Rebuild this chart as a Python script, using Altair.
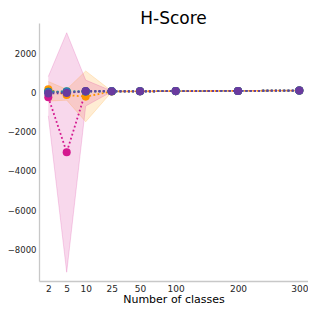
import altair as alt
import pandas as pd

classes = [2, 5, 10, 25, 50, 100, 200, 300]
series_names = ["orange", "magenta", "green", "teal", "blue", "purple"]
series_colors = ["#ff9500", "#d4198f", "#2e9a4a", "#168a8c", "#3a6fc0", "#6a3a9e"]

mean_orange = [150, -140, -220, 40, 50, 60, 70, 90]
mean_magenta = [-250, -3050, 40, 50, 50, 60, 70, 90]
mean_green = [30, 20, 40, 50, 50, 60, 70, 90]
mean_teal = [20, 50, 50, 55, 50, 60, 70, 90]
mean_blue = [0, 10, 50, 50, 50, 60, 70, 90]
mean_purple = [-60, -40, 60, 55, 50, 60, 70, 90]

lo_orange = [-450, -400, -1500, 20, 40, 50, 60, 80]
hi_orange = [550, 150, 1085, 60, 60, 70, 80, 100]
lo_magenta = [-1200, -9160, -700, 30, 40, 50, 60, 80]
hi_magenta = [800, 3030, 620, 70, 60, 70, 80, 100]

y_ticks = [-8000, -6000, -4000, -2000, 0, 2000]

means = [mean_orange, mean_magenta, mean_green, mean_teal, mean_blue, mean_purple]

rows = []
for i, (name, vals) in enumerate(zip(series_names, means)):
    for c, v in zip(classes, vals):
        rows.append({"series": name, "order": i, "classes": c, "score": v})
df = pd.DataFrame(rows)

band_rows = []
for i, (name, lo, hi) in enumerate([("orange", lo_orange, hi_orange), ("magenta", lo_magenta, hi_magenta)]):
    for c, l, h in zip(classes, lo, hi):
        band_rows.append({"series": name, "classes": c, "lo": l, "hi": h})
bdf = pd.DataFrame(band_rows)

xscale = alt.Scale(
    domain=[0.5, 2, 5, 10, 25, 50, 100, 200, 300, 313],
    range=[0, 9.3, 27.7, 46.7, 72.7, 101, 136.7, 199, 260.3, 269],
    nice=False, zero=False,
)
yscale = alt.Scale(domain=[-9605, 3527], nice=False, zero=False)
color = alt.Color("series:N", scale=alt.Scale(domain=series_names, range=series_colors), legend=None)

xaxis = alt.Axis(values=classes, format="d", title="Number of classes",
                 labelPadding=3, titlePadding=0, labelOverlap=False,
                 labelFlush=False, labelBound=False, titleFontSize=11)
yaxis = alt.Axis(values=y_ticks, format="d", title=None, labelPadding=3,
                 labelOverlap=False, labelFlush=False, labelFontSize=8.5)


def X(field):
    return alt.X(field, scale=xscale, axis=xaxis)


def Y(field):
    return alt.Y(field, scale=yscale, axis=yaxis)


bands = alt.Chart(bdf).mark_area(opacity=0.17).encode(
    x=X("classes:Q"), y=Y("lo:Q"), y2="hi:Q", color=color, detail="series:N")
band_edges_lo = alt.Chart(bdf).mark_line(strokeWidth=1, opacity=0.18).encode(
    x=X("classes:Q"), y=Y("lo:Q"), color=color, detail="series:N")
band_edges_hi = alt.Chart(bdf).mark_line(strokeWidth=1, opacity=0.18).encode(
    x=X("classes:Q"), y=Y("hi:Q"), color=color, detail="series:N")

lines = alt.Chart(df).mark_line(strokeWidth=1.8, strokeDash=[1.8, 2.4]).encode(
    x=X("classes:Q"), y=Y("score:Q"), color=color, detail="series:N")
points = alt.Chart(df).mark_point(filled=True, size=65, opacity=1).encode(
    x=X("classes:Q"), y=Y("score:Q"), color=color, order=alt.Order("order:Q"))

chart = alt.layer(bands, band_edges_lo, band_edges_hi, lines, points).properties(
    width=269, height=258,
    autosize="none",
    padding={"left": 31, "top": 15, "right": 0, "bottom": 23},
    title=alt.TitleParams("H-Score", fontSize=17, font="DejaVu Sans", fontWeight="normal",
                          offset=-5, anchor="middle", color="#000000"),
).configure_view(stroke=None).configure_axis(
    domainColor="#c8c8c8", domainWidth=1.3, ticks=False, grid=False,
    labelFont="DejaVu Sans", labelFontSize=9, labelColor="#262626",
    titleFont="DejaVu Sans", titleFontSize=12, titleFontWeight="normal", titleColor="#000000",
)

chart.save("out.html", embed_options={"renderer": "svg", "actions": False})
